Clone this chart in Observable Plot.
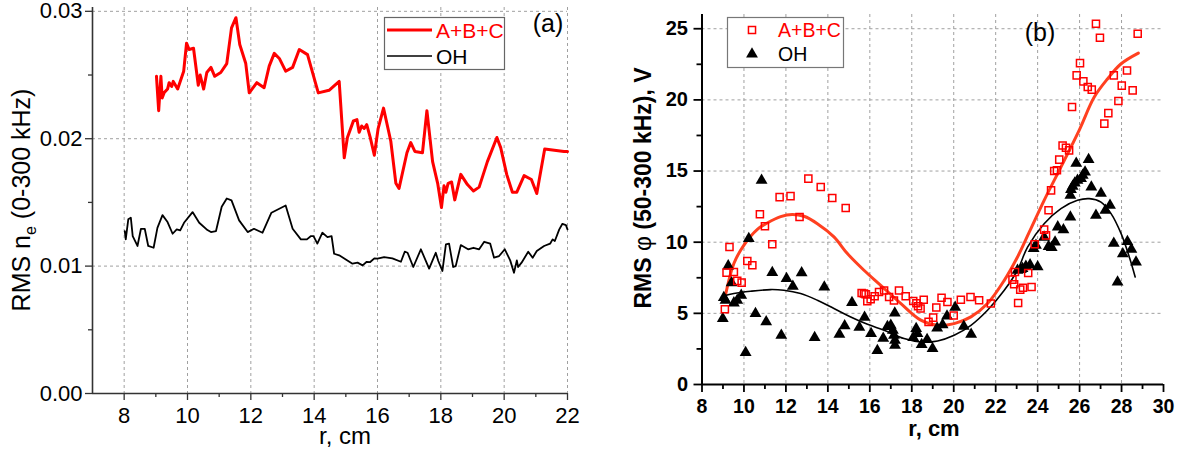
<!DOCTYPE html>
<html><head><meta charset="utf-8">
<script src="https://cdn.jsdelivr.net/npm/d3@7"></script>
<script src="https://cdn.jsdelivr.net/npm/@observablehq/plot@0.6"></script>
<style>
body{margin:0;background:#fff}
#wrap{display:flex;width:1182px;height:459px;background:#fff}
</style>
</head><body><div id="wrap"></div>
<script>
// ---------- Panel (a): RMS n_e (0-300 kHz) vs r ----------
const aRedR = [9.02,9.09,9.16,9.2,9.26,9.37,9.42,9.5,9.55,9.69,
  9.88,9.97,10.05,10.19,10.34,10.4,10.51,10.61,10.74,10.86,
  11.05,11.24,11.39,11.53,11.65,11.84,11.95,12.19,12.42,12.58,
  12.74,12.9,13.1,13.32,13.53,13.79,14.13,14.47,14.79,14.95,
  15.05,15.24,15.35,15.42,15.5,15.58,15.66,15.77,15.9,16.02,
  16.19,16.42,16.58,16.68,16.93,17.05,17.18,17.42,17.56,17.74,
  17.9,18.02,18.1,18.16,18.23,18.34,18.44,18.63,18.84,19.03,
  19.21,19.47,19.77,19.89,20.08,20.26,20.4,20.63,20.86,21.03,
  21.28,21.89,22.0];
const aRedV = [.0249,.0222,.0249,.0232,.0236,.0239,.0244,.0241,.0245,.0239,
  .0253,.0275,.0270,.0271,.0242,.0250,.0239,.0252,.0256,.0249,
  .0252,.0259,.0287,.0295,.0274,.0259,.0236,.0244,.0240,.0257,
  .0267,.0263,.0253,.0256,.0270,.0266,.0236,.0238,.0245,.0185,
  .0201,.0214,.0215,.0205,.0210,.0208,.0211,.0201,.0187,.0208,
  .0224,.0198,.0165,.0161,.0189,.0197,.0190,.0189,.0222,.0182,
  .0165,.0146,.0163,.0158,.0165,.0166,.0152,.0172,.0164,.0159,
  .0162,.0182,.0201,.0193,.0172,.0158,.0158,.0171,.0168,.0157,
  .0192,.0190,.0190];
const aOhR = [8.02,8.05,8.13,8.21,8.27,8.42,8.53,8.65,8.76,8.93,
  9.05,9.21,9.37,9.53,9.66,9.77,9.89,10.16,10.37,10.63,
  10.74,10.9,11.08,11.24,11.39,11.63,11.9,12.1,12.37,12.65,
  13.1,13.32,13.58,13.77,13.9,13.98,14.1,14.26,14.42,14.55,
  14.63,14.79,15.21,15.37,15.53,15.66,15.77,15.9,16.0,16.21,
  16.47,16.74,16.86,16.95,17.13,17.37,17.63,17.84,17.92,18.05,
  18.16,18.26,18.39,18.47,18.63,18.86,19.03,19.21,19.37,19.56,
  19.68,19.84,20.02,20.19,20.31,20.4,20.44,20.55,20.76,20.9,
  21.03,21.26,21.45,21.53,21.6,21.74,21.84,21.95,22.0];
const aOhV = [.01275,.0121,.01367,.0138,.01236,.01158,.01293,.01293,.01158,.01144,
  .0130,.0140,.01346,.01254,.01288,.0128,.0134,.01424,.0134,.01283,
  .01267,.01275,.01466,.01531,.01516,.01359,.01267,.01293,.01262,.01419,
  .01476,.01293,.0121,.0121,.01236,.01236,.01176,.01262,.01228,.01236,
  .01097,.01085,.01019,.01027,.01006,.01034,.01032,.01061,.01058,.01071,
  .01061,.01034,.01113,.01105,.00993,.01132,.0098,.01105,.0104,.00962,
  .01171,.01176,.00993,.0100,.01165,.01132,.01144,.01132,.01191,.01176,
  .01066,.01079,.01132,.01045,.00948,.01045,.00993,.01027,.01113,.01066,
  .01118,.01158,.01176,.0121,.01197,.01288,.01332,.01322,.01288];
const aXTicks = [8,10,12,14,16,18,20,22];
const aXMinor = [9,11,13,15,17,19,21];
const aYTicks = [0,0.01,0.02,0.03];
const aYMinor = [0.005,0.015,0.025];

// ---------- Panel (b): RMS phi (50-300 kHz) vs r ----------
const bSquares = [[9.09,5.29],[9.17,7.86],[9.31,9.66],[9.52,7.91],[9.68,7.28],[9.89,7.16],[10.16,8.68],[10.4,8.38],
  [10.76,11.96],[11.0,11.12],[11.35,9.85],[11.7,13.17],[12.22,13.24],[12.65,11.77],[13.07,14.47],[13.66,13.88],
  [14.21,13.1],[14.85,12.4],
  [15.61,6.43],[15.72,6.39],[15.8,6.34],[15.88,5.85],[16.04,5.99],[16.23,6.2],[16.44,6.5],[16.68,6.6],[16.92,6.15],
  [17.15,5.9],[17.39,6.6],[17.71,6.2],[18.07,5.87],[18.22,5.71],[18.3,5.5],[18.42,5.34],[18.57,5.95],[18.8,4.4],
  [19.02,4.7],[19.17,5.41],[19.42,6.1],[19.7,5.8],[20.0,4.85],[20.34,5.95],[20.8,6.15],[21.21,5.92],[21.77,5.69],
  [22.8,7.37],[22.88,7.04],[22.92,7.9],[23.07,5.73],[23.17,6.67],[23.3,6.8],[23.55,7.84],[23.71,6.85],[23.86,9.85],
  [24.31,10.88],[24.4,10.48],[24.52,12.24],[24.64,13.64],[24.79,15.0],[24.92,15.05],[25.03,15.8],[25.19,16.8],
  [25.35,16.64],[25.5,16.45],[25.64,19.5],[25.86,21.72],[26.02,22.58],[26.18,21.3],[26.39,20.9],[26.58,20.72],
  [26.78,25.35],[26.97,24.37],[27.18,18.33],[27.37,19.07],[27.63,21.72],[27.85,19.92],[28.01,21.0],[28.26,22.07],
  [28.53,20.67],[28.77,24.65]];
const bTriangles = [[8.99,4.63],[9.04,6.11],[9.12,5.92],[9.25,8.33],[9.41,7.14],[9.52,5.73],[9.68,5.92],[9.87,6.27],
  [10.08,2.25],[10.23,10.25],[10.55,4.99],[10.84,14.35],[11.06,4.4],[11.35,7.86],[11.78,3.46],[12.03,7.44],
  [12.33,6.9],[12.75,7.84],[13.37,3.3],[13.83,6.85],[14.55,3.52],[14.8,4.12],[15.15,5.75],[15.5,4.02],[15.75,4.72],
  [16.06,3.58],[16.36,2.38],[16.64,3.25],[16.84,4.07],[17.0,4.16],[17.1,3.8],[17.15,3.46],[17.19,5.01],[17.2,3.11],
  [17.2,2.76],[18.07,3.3],[18.21,3.93],[18.27,3.58],[18.47,2.8],[18.73,3.16],[18.99,2.53],[19.21,3.96],[19.47,4.2],
  [19.68,4.8],[20.07,5.43],[20.48,4.09],[20.83,3.53],
  [23.04,8.03],[23.2,8.08],[23.28,8.15],[23.44,8.31],[23.64,8.4],[23.81,9.55],[23.92,9.78],[24.0,8.26],[24.31,10.35],
  [24.52,9.7],[24.67,9.62],[24.83,10.0],[24.96,11.07],[25.23,10.86],[25.56,11.77],[25.56,13.29],[25.59,13.69],
  [25.67,13.93],[25.77,14.16],[25.9,14.35],[26.07,14.47],[26.15,14.7],[26.26,14.93],[25.84,15.54],[26.43,15.8],
  [26.56,13.88],[26.78,11.89],[27.02,13.44],[27.23,12.24],[27.45,12.59],[27.63,9.92],[27.81,7.2],[28.06,9.18],
  [28.28,10.05],[28.47,9.5],[28.69,8.61]];
const bFitRed = [[9.1,6.15],[9.52,8.5],[10.0,9.8],[10.64,10.9],[11.11,11.35],[11.75,11.8],[12.3,11.95],[12.86,11.82],
  [13.5,11.3],[14.29,10.37],[14.93,9.2],[15.72,8.03],[16.52,6.97],[17.47,5.7],[18.43,4.52],[19.23,4.16],[20.02,4.28],
  [20.82,4.75],[21.61,5.69],[22.41,7.32],[23.04,8.96],[23.6,10.7],[24.31,12.94],[25.11,15.28],[25.99,17.9],
  [26.7,20.2],[27.34,21.49],[27.98,22.54],[28.8,23.29]];
const bFitOh = [[8.99,6.2],[9.52,6.39],[10.31,6.55],[11.27,6.67],[11.9,6.62],[12.7,6.39],[13.5,5.92],[14.29,5.34],
  [15.09,4.75],[15.89,4.23],[16.68,3.81],[17.63,3.23],[18.43,2.99],[19.23,3.06],[20.02,3.46],[20.82,4.16],
  [21.61,5.22],[22.41,6.62],[23.04,8.03],[23.52,9.66],[24.31,11.3],[25.11,12.36],[25.9,12.94],[26.46,13.06],
  [27.02,12.82],[27.5,12.01],[27.98,10.6],[28.37,8.96],[28.65,7.56]];
const bXTicks = [8,10,12,14,16,18,20,22,24,26,28,30];
const bXMinor = [9,11,13,15,17,19,21,23,25,27,29];
const bYTicks = [0,5,10,15,20,25];
const bYMinor = [2.5,7.5,12.5,17.5,22.5];

const seriesNames = ["A+B+C", "OH"];
const RED = "#ff0000", FITRED = "#ff4020";
const SQ_R = 4.0, TRI_R = 4.4;

const wrap = document.getElementById("wrap");
const gridOpt = {stroke: "#a0a0a0", strokeOpacity: 1, strokeDasharray: "3,3", strokeWidth: 1};

// ---------- build panel (a) ----------
const aRed = aRedR.map((r, i) => ({r, v: aRedV[i]}));
const aOh = aOhR.map((r, i) => ({r, v: aOhV[i]}));
const fontA = "'Liberation Sans', Arial, sans-serif";
const plotA = Plot.plot({
  width: 590, height: 459,
  marginLeft: 92, marginRight: 23, marginTop: 7, marginBottom: 66,
  x: {domain: [7, 22]},
  y: {domain: [0, 0.0303]},
  style: {fontFamily: fontA, background: "#fff", color: "#000", overflow: "visible"},
  marks: [
    Plot.gridX(aXTicks, gridOpt),
    Plot.gridY(aYTicks.filter(d => d > 0), gridOpt),
    Plot.line(aRed, {x: "r", y: "v", stroke: RED, strokeWidth: 3, strokeLinejoin: "round"}),
    Plot.line(aOh, {x: "r", y: "v", stroke: "#000", strokeWidth: 1.8, strokeLinejoin: "round"}),
    Plot.axisX(aXTicks, {tickSize: 7, tickPadding: 7, fontSize: 22, label: null, tickFormat: d => String(d), stroke: "#333", strokeWidth: 1.3}),
    Plot.axisX(aXMinor, {tickSize: 4, text: null, label: null, stroke: "#333", strokeWidth: 1.3}),
    Plot.axisY(aYTicks, {tickSize: 7, tickPadding: 3, fontSize: 22, label: null, tickFormat: d3.format(".2f"), stroke: "#333", strokeWidth: 1.3}),
    Plot.axisY(aYMinor, {tickSize: 4, text: null, label: null, stroke: "#333", strokeWidth: 1.3}),
    Plot.ruleX([7], {stroke: "#333", strokeWidth: 1.6}),
    Plot.ruleY([0], {stroke: "#333", strokeWidth: 1.6})
  ]
});
wrap.appendChild(plotA);
{
  const s = d3.select(plotA);
  s.append("text").attr("x", 345).attr("y", 444).attr("text-anchor", "middle")
    .attr("font-size", 24).attr("font-family", fontA).text("r, cm");
  const t = s.append("text").attr("transform", "translate(30,200) rotate(-90)")
    .attr("text-anchor", "middle").attr("font-size", 25).attr("font-family", fontA);
  t.append("tspan").text("RMS n");
  t.append("tspan").attr("dy", 6).attr("font-size", 16).text("e");
  t.append("tspan").attr("dy", -6).text(" (0-300 kHz)");
  s.append("text").attr("x", 548).attr("y", 32).attr("text-anchor", "middle")
    .attr("font-size", 25).attr("font-family", fontA).text("(a)");
  const lg = s.append("g");
  lg.append("rect").attr("x", 384.5).attr("y", 17.5).attr("width", 120).attr("height", 52)
    .attr("fill", "#fff").attr("stroke", "#666").attr("stroke-width", 1.2);
  lg.append("line").attr("x1", 387).attr("x2", 432).attr("y1", 30).attr("y2", 30).attr("stroke", RED).attr("stroke-width", 3);
  lg.append("line").attr("x1", 387).attr("x2", 432).attr("y1", 56).attr("y2", 56).attr("stroke", "#000").attr("stroke-width", 1.6);
  lg.append("text").attr("x", 436).attr("y", 37.5).attr("text-anchor", "start").attr("font-size", 21).attr("font-family", fontA).attr("fill", RED).text(seriesNames[0]);
  lg.append("text").attr("x", 436).attr("y", 63.5).attr("text-anchor", "start").attr("font-size", 21).attr("font-family", fontA).attr("fill", "#000").text(seriesNames[1]);
}

// ---------- build panel (b) ----------
const toObj = ([r, v]) => ({r, v});
const plotB = Plot.plot({
  width: 592, height: 459,
  marginLeft: 111.5, marginRight: 19, marginTop: 14, marginBottom: 75,
  x: {domain: [8, 30]},
  y: {domain: [0, 26]},
  style: {fontFamily: fontA, background: "#fff", color: "#000", overflow: "visible"},
  marks: [
    Plot.gridX(bXTicks.filter(d => d > 8 && d < 30), gridOpt),
    Plot.gridY(bYTicks.filter(d => d > 0), gridOpt),
    Plot.line(bFitRed.map(toObj), {x: "r", y: "v", stroke: FITRED, strokeWidth: 3, curve: "catmull-rom"}),
    Plot.line(bFitOh.map(toObj), {x: "r", y: "v", stroke: "#000", strokeWidth: 1.6, curve: "catmull-rom"}),
    Plot.dot(bTriangles.map(toObj), {x: "r", y: "v", symbol: "triangle", r: TRI_R, fill: "#000", stroke: "none"}),
    Plot.dot(bSquares.map(toObj), {x: "r", y: "v", symbol: "square", r: SQ_R, fill: "none", stroke: RED, strokeWidth: 1.5}),
    Plot.axisX(bXTicks, {tickSize: 8, tickPadding: 7, fontSize: 19.5, fontWeight: "bold", label: null, tickFormat: d => String(d), stroke: "#000", strokeWidth: 1.8}),
    Plot.axisX(bXMinor, {tickSize: 5, text: null, label: null, stroke: "#000", strokeWidth: 1.8}),
    Plot.axisY(bYTicks, {tickSize: 8, tickPadding: 6, fontSize: 20, fontWeight: "bold", label: null, tickFormat: d => String(d), stroke: "#000", strokeWidth: 1.8}),
    Plot.axisY(bYMinor, {tickSize: 5, text: null, label: null, stroke: "#000", strokeWidth: 1.8}),
    Plot.ruleX([8], {stroke: "#000", strokeWidth: 2}),
    Plot.ruleY([0], {stroke: "#000", strokeWidth: 2})
  ]
});
wrap.appendChild(plotB);
{
  const s = d3.select(plotB);
  s.append("text").attr("x", 344).attr("y", 436).attr("text-anchor", "middle")
    .attr("font-size", 22).attr("font-weight", "bold").attr("font-family", fontA).text("r, cm");
  const t = s.append("text").attr("transform", "translate(61,188) rotate(-90)")
    .attr("text-anchor", "middle").attr("font-size", 23).attr("font-weight", "bold").attr("font-family", fontA);
  t.append("tspan").text("RMS ");
  t.append("tspan").attr("font-weight", "normal").text("φ");
  t.append("tspan").text(" (50-300 kHz), V");
  s.append("text").attr("x", 450).attr("y", 41).attr("text-anchor", "middle")
    .attr("font-size", 25).attr("font-family", fontA).text("(b)");
  const lg = s.append("g");
  lg.append("rect").attr("x", 137.5).attr("y", 17.5).attr("width", 116).attr("height", 50)
    .attr("fill", "#fff").attr("stroke", "#777").attr("stroke-width", 1.2);
  lg.append("path").attr("transform", "translate(162,30)")
    .attr("d", d3.symbol(d3.symbolSquare, Math.PI * SQ_R * SQ_R)())
    .attr("fill", "none").attr("stroke", RED).attr("stroke-width", 1.5);
  lg.append("path").attr("transform", "translate(162,54)")
    .attr("d", d3.symbol(d3.symbolTriangle, Math.PI * TRI_R * TRI_R)())
    .attr("fill", "#000");
  lg.append("text").attr("x", 188).attr("y", 37).attr("text-anchor", "start").attr("font-size", 19.5).attr("font-family", fontA).attr("fill", RED).text(seriesNames[0]);
  lg.append("text").attr("x", 188).attr("y", 61).attr("text-anchor", "start").attr("font-size", 19.5).attr("font-family", fontA).attr("fill", "#000").text(seriesNames[1]);
}
</script></body></html>
